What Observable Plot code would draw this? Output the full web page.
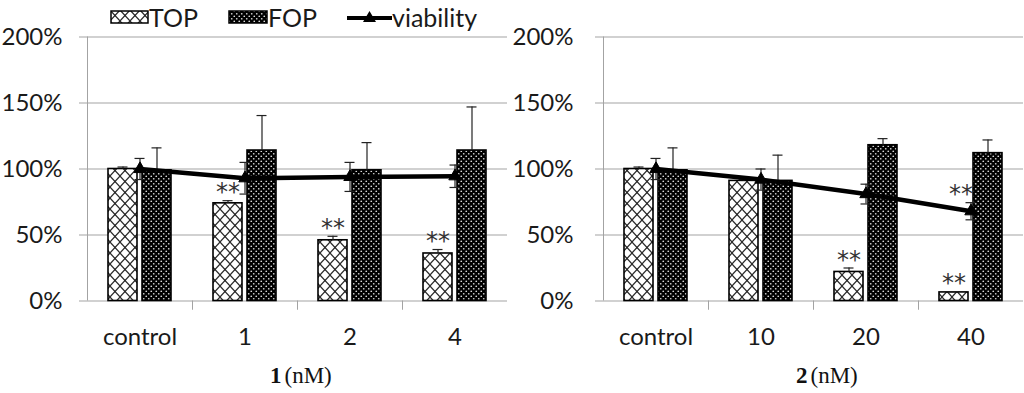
<!DOCTYPE html>
<html><head><meta charset="utf-8">
<script src="https://cdn.jsdelivr.net/npm/d3@7"></script>
<script src="https://cdn.jsdelivr.net/npm/@observablehq/plot@0.6"></script>
<style>
body{margin:0;background:#fff;}
#wrap{position:relative;width:1024px;height:393px;overflow:hidden;font-family:Lato,sans-serif;}
#charts{display:flex;position:absolute;left:0;top:0;}
#legend{position:absolute;left:0;top:0;width:520px;height:34px;z-index:2;font-size:25px;color:#1a1a1a;}
#legend .it{position:absolute;top:1px;display:flex;align-items:center;height:32px;}
</style></head>
<body>
<div id="wrap">
<svg width="0" height="0" style="position:absolute">
 <defs>
  <pattern id="topPat" patternUnits="userSpaceOnUse" width="10" height="11">
   <rect width="10" height="11" fill="#fff"/>
   <path d="M0,0L10,11M10,0L0,11" stroke="#2a2a2a" stroke-width="1.2"/>
   <circle cx="5" cy="5.5" r="1" fill="#2a2a2a"/>
  </pattern>
  <pattern id="fopPat" patternUnits="userSpaceOnUse" width="5" height="5">
   <rect width="5" height="5" fill="#000"/>
   <circle cx="1.25" cy="1.25" r="0.85" fill="#ddd"/>
   <circle cx="3.75" cy="3.75" r="0.85" fill="#ddd"/>
  </pattern>
 </defs>
</svg>
<div id="charts"></div>
<div id="legend">
 <div class="it" style="left:110px"><svg width="39" height="14"><rect x="1" y="1" width="37" height="12" fill="url(#topPat)" stroke="#000" stroke-width="1.5"/></svg><span>TOP</span></div>
 <div class="it" style="left:228px"><svg width="40" height="14"><rect x="1" y="1" width="38" height="12" fill="url(#fopPat)" stroke="#000" stroke-width="1.5"/></svg><span>FOP</span></div>
 <div class="it" style="left:347px"><svg width="45" height="16"><line x1="0" y1="9" x2="45" y2="9" stroke="#000" stroke-width="4"/><path d="M22.5,2L29,13L16,13Z" fill="#000"/></svg><span>viability</span></div>
</div>
</div>
<script>
// Panel 1: compound 1 (nM)
const cats1 = ["control", "1", "2", "4"];
const top1 = [1.00, 0.74, 0.46, 0.36];
const topErr1 = [0.015, 0.02, 0.03, 0.03];
const fop1 = [0.99, 1.14, 0.99, 1.14];
const fopErr1 = [0.17, 0.265, 0.21, 0.33];
const viab1 = [1.00, 0.93, 0.94, 0.945];
const viabErr1 = [0.08, 0.12, 0.11, 0.085];
const stars1 = [{c: "1", s: "TOP"}, {c: "2", s: "TOP"}, {c: "4", s: "TOP"}];

// Panel 2: compound 2 (nM)
const cats2 = ["control", "10", "20", "40"];
const top2 = [1.00, 0.91, 0.22, 0.065];
const topErr2 = [0.015, 0.01, 0.03, 0.005];
const fop2 = [0.99, 0.91, 1.18, 1.12];
const fopErr2 = [0.17, 0.195, 0.05, 0.10];
const viab2 = [1.00, 0.92, 0.81, 0.68];
const viabErr2 = [0.08, 0.08, 0.075, 0.065];
const stars2 = [{c: "20", s: "TOP"}, {c: "40", s: "TOP"}, {c: "40", s: "viability"}];

const yTicks = [0, 0.5, 1, 1.5, 2];

function panel(o) {
  const W = 512, H = 393, mT = 36.5, mB = 92.5;
  const bw = (W - o.mL - o.mR) / o.cats.length;
  const off = 17, half = 14.5, cap = 5;
  const rows = o.cats.map((c, i) => ({c, top: o.top[i], topErr: o.topErr[i], fop: o.fop[i], fopErr: o.fopErr[i], viab: o.viab[i], viabErr: o.viabErr[i]}));
  const byC = new Map(rows.map(r => [r.c, r]));
  const inL = (ctr, h) => bw / 2 + ctr - h;
  const inR = (ctr, h) => bw / 2 - ctr - h;
  const starsTop = o.stars.filter(d => d.s === "TOP");
  const starsViab = o.stars.filter(d => d.s !== "TOP");
  const starStyle = {text: () => "**", dy: -8, fontSize: 24, fontFamily: "DejaVu Sans", fill: "#333", lineAnchor: "middle", letterSpacing: "1px"};
  return Plot.plot({
    width: W, height: H, marginTop: mT, marginBottom: mB, marginLeft: o.mL, marginRight: o.mR,
    style: {fontFamily: "Lato", background: "white", color: "#1a1a1a"},
    x: {domain: o.cats, padding: 0},
    y: {domain: [0, 2]},
    marks: [
      Plot.gridY(yTicks, {stroke: "#a3a3a3", strokeOpacity: 1}),
      Plot.axisY(yTicks, {tickSize: 8, tickPadding: o.yPad, stroke: "#a3a3a3", fill: "#1a1a1a", fontSize: 24, tickFormat: d3.format(".0%"), label: null}),
      Plot.ruleX([o.cats[0]], {x: d => d, dx: -bw / 2, y1: 0, y2: 2, stroke: "#a3a3a3"}),
      Plot.ruleX(o.cats.slice(1), {x: d => d, dx: -bw / 2, y1: 0, y2: -0.07, stroke: "#a3a3a3"}),
      Plot.axisX({tickSize: 0, tickPadding: 27, fontSize: 24, fill: "#1a1a1a", label: null}),
      // bars
      Plot.barY(rows, {x: "c", y: "top", fill: "url(#topPat)", stroke: "#000", strokeWidth: 1.6, insetLeft: inL(-off, half), insetRight: inR(-off, half)}),
      Plot.barY(rows, {x: "c", y: "fop", fill: "url(#fopPat)", stroke: "#000", strokeWidth: 1.6, insetLeft: inL(off, half), insetRight: inR(off, half)}),
      // bar error bars (upper)
      Plot.ruleX(rows, {x: "c", y1: "top", y2: d => d.top + d.topErr, dx: -off, stroke: "#222", strokeWidth: 1.2}),
      Plot.tickY(rows, {x: "c", y: d => d.top + d.topErr, insetLeft: inL(-off, cap), insetRight: inR(-off, cap), stroke: "#222", strokeWidth: 1.2}),
      Plot.ruleX(rows, {x: "c", y1: "fop", y2: d => d.fop + d.fopErr, dx: off, stroke: "#222", strokeWidth: 1.2}),
      Plot.tickY(rows, {x: "c", y: d => d.fop + d.fopErr, insetLeft: inL(off, cap), insetRight: inR(off, cap), stroke: "#222", strokeWidth: 1.2}),
      // viability
      Plot.lineY(rows, {x: "c", y: "viab", stroke: "#000", strokeWidth: 4.5}),
      Plot.ruleX(rows, {x: "c", y1: d => d.viab - d.viabErr, y2: d => d.viab + d.viabErr, stroke: "#222", strokeWidth: 1.2}),
      Plot.tickY(rows, {x: "c", y: d => d.viab + d.viabErr, insetLeft: inL(0, cap), insetRight: inR(0, cap), stroke: "#222", strokeWidth: 1.2}),
      Plot.tickY(rows, {x: "c", y: d => d.viab - d.viabErr, insetLeft: inL(0, cap), insetRight: inR(0, cap), stroke: "#222", strokeWidth: 1.2}),
      Plot.dot(rows, {x: "c", y: "viab", symbol: "triangle", r: 4.6, fill: "#000", stroke: "#000", strokeWidth: 1}),
      // significance marks
      Plot.text(starsTop, {x: "c", y: d => byC.get(d.c).top + byC.get(d.c).topErr, dx: -off, ...starStyle}),
      Plot.text(starsViab, {x: "c", y: d => byC.get(d.c).viab + byC.get(d.c).viabErr, dx: -10, ...starStyle}),
      // axis title
      Plot.text([o.num], {text: d => d, frameAnchor: "bottom", dx: o.numDx, dy: 82, textAnchor: "end", lineAnchor: "bottom", fontFamily: "Liberation Serif", fontWeight: "bold", fontSize: 23, fill: "#111"}),
      Plot.text(["(nM)"], {text: d => d, frameAnchor: "bottom", dx: o.numDx + 3, dy: 82, textAnchor: "start", lineAnchor: "bottom", fontFamily: "Liberation Serif", fontSize: 23, fill: "#111"})
    ]
  });
}

const charts = document.getElementById("charts");
charts.appendChild(panel({cats: cats1, top: top1, topErr: topErr1, fop: fop1, fopErr: fopErr1, viab: viab1, viabErr: viabErr1, stars: stars1, mL: 87, mR: 5, yPad: 17, num: "1", numDx: -16}));
charts.appendChild(panel({cats: cats2, top: top2, topErr: topErr2, fop: fop2, fopErr: fopErr2, viab: viab2, viabErr: viabErr2, stars: stars2, mL: 91, mR: 1, yPad: 22, num: "2", numDx: -6}));
</script>
</body></html>
